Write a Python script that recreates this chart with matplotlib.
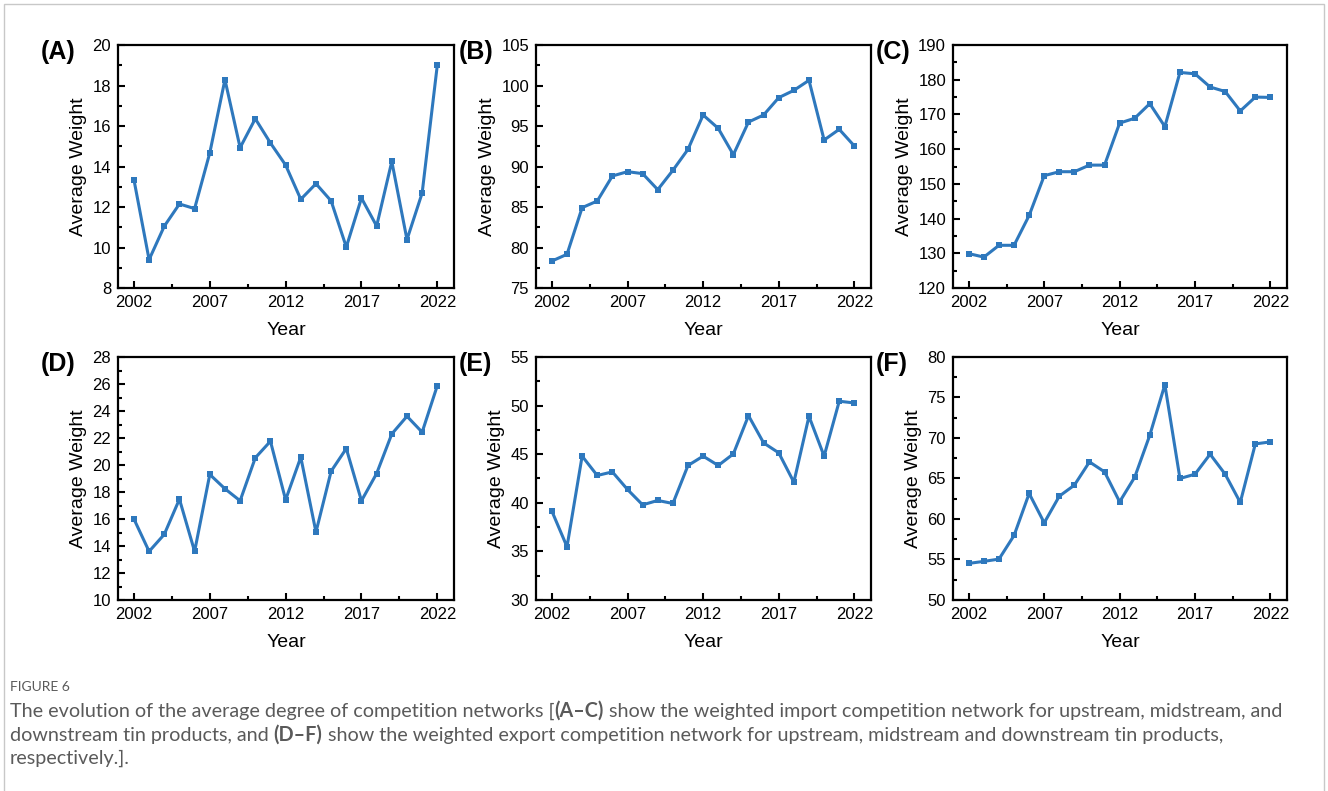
import matplotlib
matplotlib.use("Agg")
import matplotlib.pyplot as plt
from matplotlib.patches import Rectangle

# years shared by all panels
years = list(range(2002, 2023))

# (A)-(C) weighted import competition network: upstream, midstream, downstream
import_up = [13.35, 9.4, 11.05, 12.15, 11.92, 14.67, 18.29, 14.93, 16.36, 15.16, 14.07,
             12.38, 13.15, 12.3, 10.02, 12.44, 11.06, 14.25, 10.39, 12.69, 19.01]
import_mid = [78.33, 79.16, 84.92, 85.74, 88.83, 89.36, 89.12, 87.14, 89.53, 92.12, 96.36,
              94.71, 91.46, 95.49, 96.36, 98.5, 99.4, 100.64, 93.27, 94.59, 92.53]
import_down = [129.9, 128.9, 132.3, 132.3, 140.9, 152.36, 153.5, 153.5, 155.4, 155.4, 167.5,
               168.9, 173.1, 166.5, 182.1, 181.7, 177.9, 176.6, 171.0, 175.0, 174.9]

# (D)-(F) weighted export competition network: upstream, midstream, downstream
export_up = [16.0, 13.6, 14.86, 17.47, 13.6, 19.3, 18.24, 17.35, 20.53, 21.76, 17.42,
             20.58, 15.03, 19.54, 21.22, 17.35, 19.37, 22.3, 23.61, 22.43, 25.88]
export_mid = [39.14, 35.48, 44.8, 42.81, 43.18, 41.37, 39.79, 40.24, 39.93, 43.84, 44.8,
              43.84, 45.03, 48.97, 46.16, 45.14, 42.12, 48.9, 44.8, 50.45, 50.27]
export_down = [54.52, 54.77, 55.05, 57.97, 63.15, 59.53, 62.82, 64.18, 67.05, 65.82, 62.12,
               65.16, 70.34, 76.59, 65.0, 65.53, 68.0, 65.53, 62.04, 69.27, 69.52]

panel_labels = ["(A)", "(B)", "(C)", "(D)", "(E)", "(F)"]
series = [import_up, import_mid, import_down, export_up, export_mid, export_down]
y_ranges = [(8, 20, 2), (75, 105, 5), (120, 190, 10), (10, 28, 2), (30, 55, 5), (50, 80, 5)]
x_ticks = [2002, 2007, 2012, 2017, 2022]

plt.rcParams["font.family"] = ["Liberation Sans", "DejaVu Sans"]

W, H = 1328, 791
fig = plt.figure(figsize=(W / 100, H / 100), dpi=100)

# axes boxes in pixels: left, top, right, bottom
col_px = [(118, 454), (536, 871), (953, 1287)]
row_px = [(45, 288), (357, 600)]

line_color = "#2e78bd"

for i in range(6):
    r, c = divmod(i, 3)
    l, rr = col_px[c]
    t, b = row_px[r]
    ax = fig.add_axes([l / W, 1 - b / H, (rr - l) / W, (b - t) / H])
    ax.plot(years, series[i], color=line_color, lw=2.2, marker="s", ms=3.8,
            markeredgewidth=0)
    y0, y1, step = y_ranges[i]
    ax.set_ylim(y0, y1)
    ax.set_yticks(range(y0, y1 + 1, step))
    ax.set_yticks([y0 + step * (k + 0.5) for k in range((y1 - y0) // step)], minor=True)
    ax.set_xlim(2000.95, 2023.1)
    ax.set_xticks(x_ticks)
    ax.set_xticks([x + 2.5 for x in x_ticks[:-1]], minor=True)
    ax.tick_params(which="both", direction="in", top=False, right=False,
                   labelsize=12, width=1.5, pad=5)
    ax.tick_params(which="major", length=5)
    ax.tick_params(which="minor", length=3)
    for sp in ax.spines.values():
        sp.set_linewidth(1.6)
    ax.set_xlabel("Year", fontsize=14, labelpad=9)
    ax.set_ylabel("Average Weight", fontsize=14, labelpad=4)
    fig.text((l - 77) / W, 1 - (t + 7) / H, panel_labels[i], fontsize=18,
             fontweight="bold", va="center", ha="left")

# outer frame
fig.patches.append(Rectangle((4 / W, -0.01), (1324 - 4) / W, 1 - 4 / H + 0.01,
                             transform=fig.transFigure, fill=False,
                             edgecolor="#c8c8c8", lw=1.0))

# caption
cap_font = ["Lato", "DejaVu Sans"]
cap_color = "#5a5a5a"
fig.text(10 / W, 1 - 687 / H, "FIGURE 6", fontsize=10, color=cap_color,
         family=cap_font, va="center")

caption = [
    [("The evolution of the average degree of competition networks [", False),
     ("(A\u2013C)", True),
     (" show the weighted import competition network for upstream, midstream, and", False)],
    [("downstream tin products, and ", False), ("(D\u2013F)", True),
     (" show the weighted export competition network for upstream, midstream and downstream tin products,", False)],
    [("respectively.].", False)],
]
caption_y = [711, 735, 758]

fig.canvas.draw()
renderer = fig.canvas.get_renderer()
for parts, y in zip(caption, caption_y):
    x = 10
    for txt, bold in parts:
        t = fig.text(x / W, 1 - y / H, txt, fontsize=14.2, color=cap_color,
                     family=cap_font, fontweight="bold" if bold else "normal",
                     va="center", ha="left")
        x += t.get_window_extent(renderer).width

fig.savefig("out.png", dpi=100)
